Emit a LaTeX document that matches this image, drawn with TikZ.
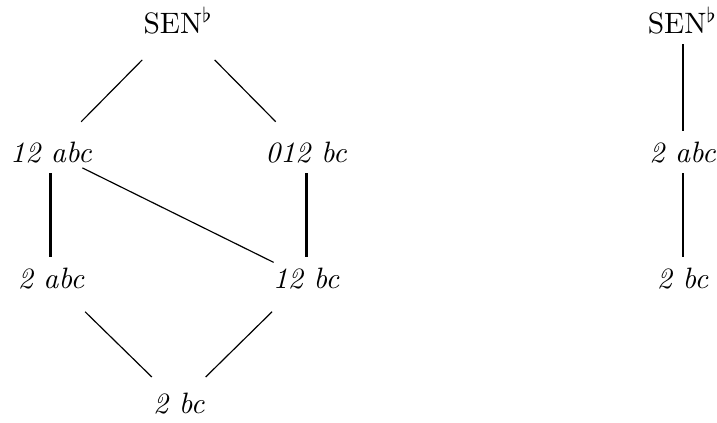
\documentclass[tikz,border=0pt]{standalone}
\begin{document}
\begin{tikzpicture}[
		term/.style={anchor=base, font=\itshape},
		top/.style={shorten <=7.4pt, shorten >=4.6pt},
		cross/.style={shorten <=-4.2pt, shorten >=-3.8pt},
		low/.style={shorten <=6pt, shorten >=2.6pt},
		strong/.style={line width=1pt},
	]
	\useasboundingbox (0, 0) rectangle (8.54, 5.03);

	\node[anchor=base] (sen)   at (2.125, 4.633) {SEN$^{\smash{\flat}}$};
	\node[term] (abc12) at (0.607, 3.097) {12 abc};
	\node[term] (bc012) at (3.645, 3.097) {012 bc};
	\node[term] (abc2)  at (0.607, 1.596) {2 abc};
	\node[term] (bc12)  at (3.645, 1.596) {12 bc};
	\node[term] (bc2)   at (2.13, 0.107)  {2 bc};

	\draw[top] (sen) -- (abc12);
	\draw[top] (sen) -- (bc012);
	\draw[strong] (abc12) -- (abc2);
	\draw[strong] (bc012) -- (bc12);
	\draw[cross] (abc12) -- (bc12);
	\draw[low] (abc2) -- (bc2);
	\draw[low] (bc12) -- (bc2);

	% second chain
	\node[anchor=base] (senR) at (8.13, 4.633) {SEN$^{\smash{\flat}}$};
	\node[term] (abc2R) at (8.13, 3.097) {2 abc};
	\node[term] (bc2R)  at (8.13, 1.596) {2 bc};

	\draw[line width=0.7pt] (senR) -- (abc2R);
	\draw[line width=0.7pt] (abc2R) -- (bc2R);
\end{tikzpicture}
\end{document}
